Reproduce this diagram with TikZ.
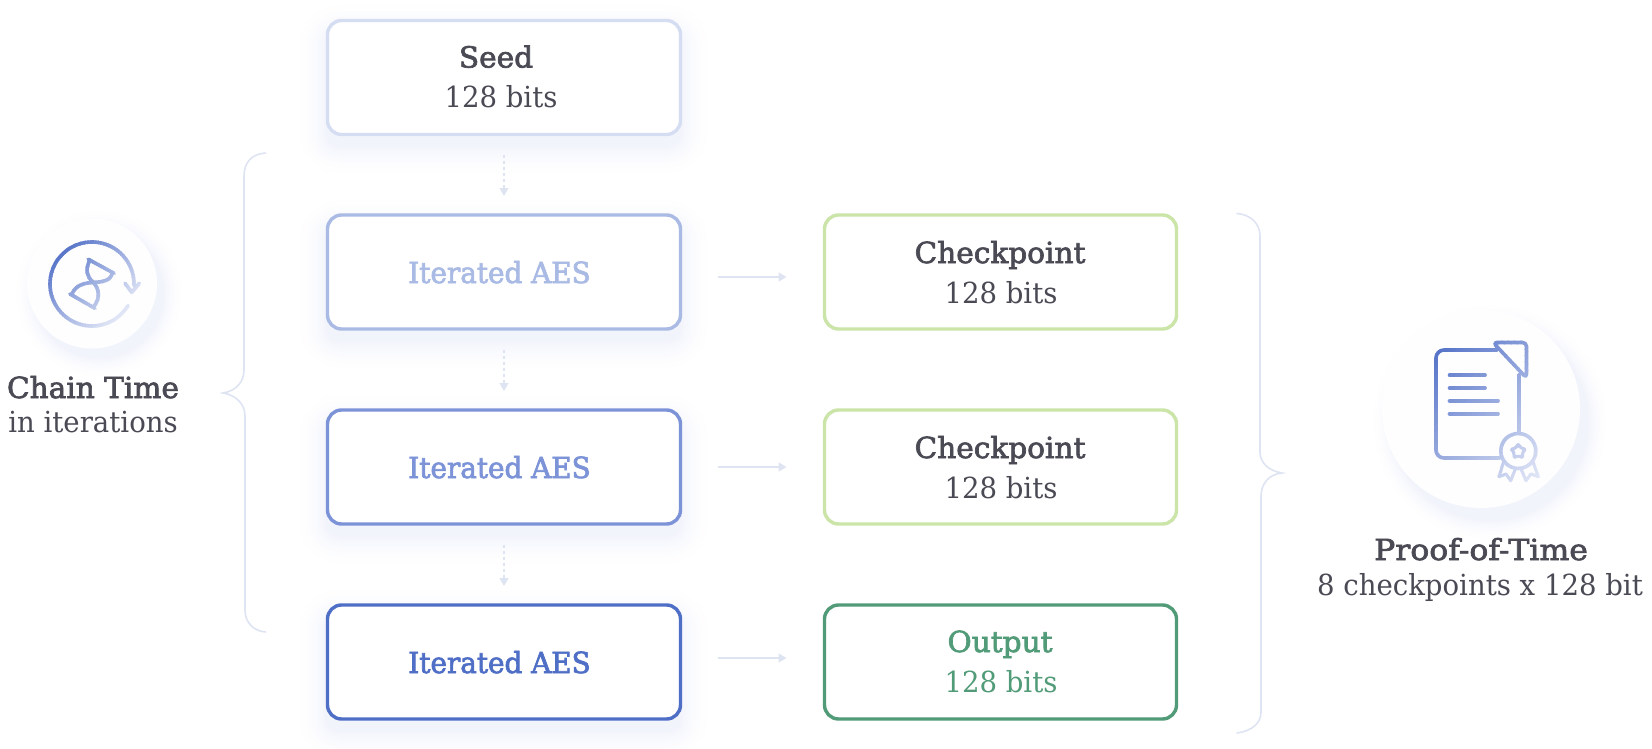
\documentclass[tikz,border=0pt]{standalone}
\usepackage{fontspec}
\setmainfont[FakeStretch=0.95]{DejaVu Serif}
\newfontfamily\medfont[FakeStretch=1.02,FakeBold=2.4]{DejaVu Serif}
\newfontfamily\narrowfont[FakeStretch=0.96,FakeBold=2.4]{DejaVu Serif}
\newfontfamily\widefont[FakeStretch=1.085,FakeBold=2.4]{DejaVu Serif}
\usetikzlibrary{arrows.meta,calc}
\definecolor{ink}{HTML}{4A4A55}
\definecolor{seedc}{HTML}{D5DDF2}
\definecolor{aesa}{HTML}{A9BAE4}
\definecolor{aesb}{HTML}{7C93D8}
\definecolor{aesc}{HTML}{4F6EC6}
\definecolor{checkc}{HTML}{CBE4A8}
\definecolor{outc}{HTML}{519B78}
\definecolor{linkc}{HTML}{DFE4F3}
\definecolor{shadowc}{HTML}{F2F4FC}
\definecolor{discc}{HTML}{FEFEFF}
\definecolor{icondark}{HTML}{4F6EC6}
\definecolor{iconlight}{HTML}{E3E8F7}
\tikzset{
 boxnode/.style={draw=#1,line width=3.4pt,rounded corners=14pt,fill=white,minimum height=114pt,inner sep=0pt,outer sep=0pt},
 leftbox/.style={boxnode=#1,minimum width=353pt},
 rightbox/.style={boxnode=#1,minimum width=352pt},
 flow/.style={draw=linkc,line width=1.6pt,-{Triangle[width=9pt,length=8pt]}},
 dotflow/.style={flow,dash pattern=on 3pt off 3pt},
 brace/.style={draw=linkc,line width=1.6pt,line cap=round},
 titletext/.style={anchor=base,inner sep=0pt,font=\medfont\fontsize{29}{34}\selectfont},
 aestext/.style={anchor=base,inner sep=0pt,font=\narrowfont\fontsize{29}{34}\selectfont},
 prooftext/.style={anchor=base,inner sep=0pt,font=\widefont\fontsize{29}{34}\selectfont},
 subtext/.style={anchor=base,inner sep=0pt,font=\fontsize{29}{34}\selectfont},
 iconline/.style={line cap=round,line join=round,line width=3.6pt}
}
% soft rectangular shadow: x1 y1 x2 y2
\newcommand{\softbox}[4]{%
 \foreach \k in {0,...,15}{%
  \pgfmathsetmacro{\e}{30*(1-\k/15)}%
  \pgfmathsetmacro{\p}{100*((\k+1)/16)^2}%
  \pgfmathsetmacro{\rr}{\e+14}%
  \fill[shadowc!\p!white,rounded corners=\rr pt]
    (#1-\e,#2-\e+12) rectangle (#3+\e,#4+\e+12);
 }}
% soft round shadow: x y r dx dy
\newcommand{\softdisc}[5]{%
 \foreach \k in {0,...,15}{%
  \pgfmathsetmacro{\e}{#3+20*(1-\k/15)}%
  \pgfmathsetmacro{\p}{100*((\k+1)/16)^2}%
  \fill[shadowc!\p!white] (#1+#4,#2+#5) circle[radius=\e pt];
 }}
% stroke gradient along x+y: smin smax paths
\newcommand{\gradicon}[3]{%
 \foreach \i in {0,...,39}{%
  \pgfmathsetmacro{\sa}{#1+(#2-#1)*\i/40-1}%
  \pgfmathsetmacro{\sb}{#1+(#2-#1)*(\i+1)/40}%
  \pgfmathsetmacro{\p}{100*\i/39}%
  \colorlet{gc}{iconlight!\p!icondark}%
  \begin{scope}
   \clip (\sa,0) -- (\sb,0) -- (\sb-749,749) -- (\sa-749,749) -- cycle;
   \begin{scope}[draw=gc,iconline] #3 \end{scope}
  \end{scope}
 }}
\begin{document}
\begin{tikzpicture}[x=1pt,y=1pt,yscale=-1]
\useasboundingbox (0,0) rectangle (1652,749);
\fill[white] (0,0) rectangle (1652,749);

% shadows
\softbox{326}{20}{681}{135}
\softbox{326}{214}{681}{330}
\softbox{326}{409}{681}{525}
\softbox{326}{604}{681}{720}
\softdisc{92}{283.5}{65}{7}{10}
\softdisc{1481}{409}{99}{9}{13}

% boxes
\node[leftbox=seedc] (seed) at (504,77.5) {};
\node[leftbox=aesa] (aes1) at (504,272) {};
\node[leftbox=aesb] (aes2) at (504,467) {};
\node[leftbox=aesc] (aes3) at (504,662) {};
\node[rightbox=checkc] (check1) at (1000.5,272) {};
\node[rightbox=checkc] (check2) at (1000.5,467) {};
\node[rightbox=outc] (out) at (1000.5,662) {};

% texts
\node[titletext,text=ink] (seedt) at (496,67.5) {Seed};
\node[subtext,text=ink] (seedb) at (501,108) {128 bits};
\node[aestext,text=aesa] (aes1t) at (499.5,283) {Iterated AES};
\node[aestext,text=aesb] (aes2t) at (499.5,478) {Iterated AES};
\node[aestext,text=aesc] (aes3t) at (499.5,673) {Iterated AES};
\node[titletext,text=ink] (c1t) at (1000,263) {Checkpoint};
\node[subtext,text=ink] (c1b) at (1001,303) {128 bits};
\node[titletext,text=ink] (c2t) at (1000,458) {Checkpoint};
\node[subtext,text=ink] (c2b) at (1001,498) {128 bits};
\node[titletext,text=outc] (ot) at (1000,652) {Output};
\node[subtext,text=outc] (ob) at (1001,692) {128 bits};
\node[titletext,text=ink] (chaint) at (93,398) {Chain Time};
\node[subtext,text=ink] (chainb) at (93,432) {in iterations};
\node[prooftext,text=ink] (prooft) at (1481,560) {Proof-of-Time};
\node[subtext,text=ink] (proofb) at (1480,595) {8 checkpoints x 128 bit};

% connectors
\draw[dotflow,shorten <=20.5pt,shorten >=19pt] (seed) -- (aes1);
\draw[dotflow,shorten <=20.5pt,shorten >=19pt] (aes1) -- (aes2);
\draw[dotflow,shorten <=20.5pt,shorten >=19pt] (aes2) -- (aes3);
\draw[flow,shorten <=37pt,shorten >=38pt] ($(aes1.east)+(0,5)$) -- ($(check1.west)+(0,5)$);
\draw[flow,shorten <=37pt,shorten >=38pt] (aes2.east) -- (check2.west);
\draw[flow,shorten <=37pt,shorten >=38pt] ($(aes3.east)+(0,-4)$) -- ($(out.west)+(0,-4)$);

% braces
\draw[brace] (265.5,153) .. controls (252,154) and (244,162) .. (244,176) -- (244,370)
  .. controls (244,382) and (236,391) .. (223,393)
  .. controls (236,395) and (245,404) .. (245,416) -- (245,610)
  .. controls (245,623) and (254,631) .. (265.5,632);
\draw[brace] (1237,213.5) .. controls (1250,214.5) and (1260,223) .. (1260,236) -- (1260,452)
  .. controls (1260,463) and (1269,471) .. (1282,473)
  .. controls (1269,474) and (1261,484) .. (1261,496) -- (1261,712)
  .. controls (1261,724) and (1251,731) .. (1237,733);

% icon discs
\fill[discc] (92,283.5) circle[radius=65pt];
\fill[discc] (1481,409) circle[radius=99pt];

% hourglass icon
\gradicon{306}{440}{
 \draw[domain=31:362,samples=90] plot ({92+42*cos(\x)},{284+42*sin(\x)});
 \draw (125,283.3) -- (131.7,292.3) -- (139.3,283.3);
 \draw (88.3,259.3) -- (114,273.3);
 \draw (70,294) -- (95,308.3);
 \draw (89.5,261) .. controls (85,270) and (87,277) .. (93,282) .. controls (99,288) and (101,298) .. (93.5,307);
 \draw (112,274) .. controls (110,281) and (102,282) .. (93,282.5) .. controls (84,283) and (76,285) .. (72,294);
}

% certificate icon
\gradicon{1775}{2024}{
 \draw (1497,350) -- (1444,350) arc[start angle=270,end angle=180,radius=8pt] -- (1436,450) arc[start angle=180,end angle=90,radius=8pt] -- (1500,458);
 \draw (1519,375) -- (1519,433);
 \draw[rounded corners=4pt] (1493,342.5) -- (1526.5,342.5) -- (1526.5,378) -- cycle;
 \draw (1449.5,375) -- (1485,375);
 \draw (1449.5,388) -- (1485,388);
 \draw (1449.5,401) -- (1498,401);
 \draw (1449.5,414) -- (1498,414);
 \draw (1518.3,451) circle[radius=17.5pt];
 \draw[rounded corners=2pt,line width=3pt] (1518.3,443.5) -- (1520.6,448.4) -- (1526,449) -- (1522,452.8) -- (1523,458) -- (1518.3,455.5) -- (1513.6,458) -- (1514.6,452.8) -- (1510.6,449) -- (1516,448.4) -- cycle;
 \draw[line width=3pt] (1503.3,462.7) -- (1499,476.7) -- (1506,474) -- (1510.7,480.7) -- (1515,470);
 \draw[line width=3pt] (1533.3,462.7) -- (1538.3,476.7) -- (1531,474) -- (1526,480.7) -- (1521.5,470);
}
\end{tikzpicture}
\end{document}
